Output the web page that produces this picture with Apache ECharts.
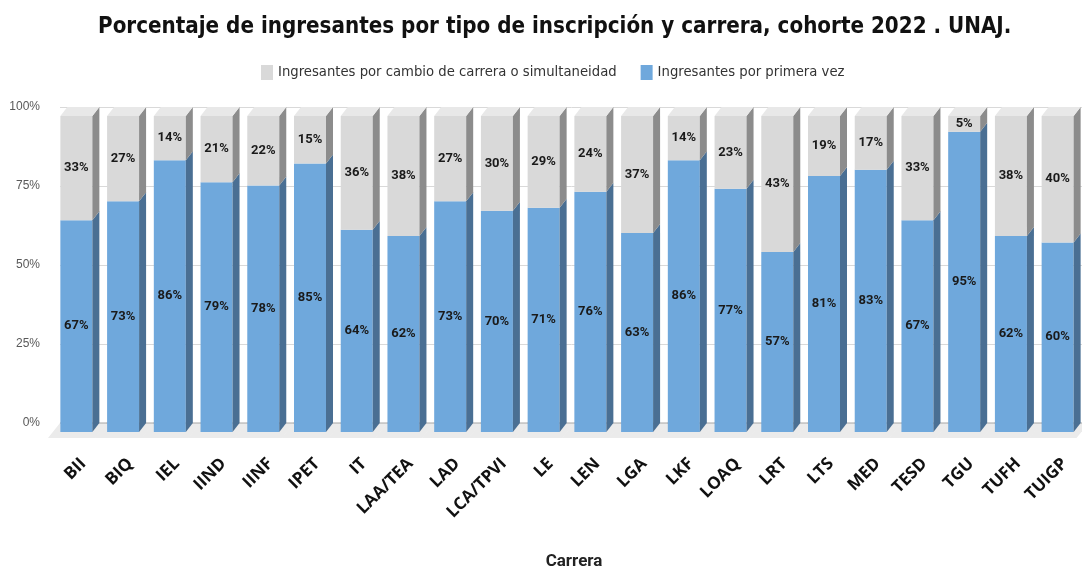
<!DOCTYPE html>
<html>
<head>
<meta charset="utf-8">
<script src="https://cdn.jsdelivr.net/npm/echarts@6/dist/echarts.min.js"></script>
<style>
  html, body { margin: 0; padding: 0; background: #fff; }
  #chart { width: 1082px; height: 573px; }
</style>
</head>
<body>
<div id="chart"></div>
<script>
const categorias = ['BII', 'BIQ', 'IEL', 'IIND', 'IINF', 'IPET', 'IT', 'LAA/TEA', 'LAD', 'LCA/TPVI', 'LE',
  'LEN', 'LGA', 'LKF', 'LOAQ', 'LRT', 'LTS', 'MED', 'TESD', 'TGU', 'TUFH', 'TUIGP']
const primeraVez = [67, 73, 86, 79, 78, 85, 64, 62, 73, 70, 71, 76, 63, 86, 77, 57, 81, 83, 67, 95, 62, 60]
const cambio = [33, 27, 14, 21, 22, 15, 36, 38, 27, 30, 29, 24, 37, 14, 23, 43, 19, 17, 33, 5, 38, 40]
const yTicks = [0, 25, 50, 75, 100]

const NOMBRE_CAMBIO = 'Ingresantes por cambio de carrera o simultaneidad'
const NOMBRE_PRIMERA = 'Ingresantes por primera vez'

// offsets de la falsa perspectiva 3D
const DX = 7
const DY = 9
const FRONT_W = 32

const chart = echarts.init(document.getElementById('chart'))

const makeRender = (colors, withTop, withFloor) => (params, api) => {
  const i = api.value(0)
  const lo = api.value(1)
  const hi = api.value(2)
  const base = api.coord([i, lo])
  const top = api.coord([i, hi])
  const band = api.size([1, 0])[0]
  const cx = base[0]
  const fl = cx - DX - FRONT_W / 2
  const fr = fl + FRONT_W
  const yb = base[1] + DY
  const yt = top[1] + DY
  const children = []
  if (withFloor) {
    const y0 = api.coord([i, 0])[1]
    children.push({
      type: 'polygon', z2: 0,
      shape: { points: [[cx - band / 2, y0], [cx + band / 2 + 0.5, y0], [cx + band / 2 - 12 + 0.5, y0 + 15], [cx - band / 2 - 12, y0 + 15]] },
      style: { fill: '#ebebeb' }
    })
    children.push({
      type: 'line', z2: 1,
      shape: { x1: cx - band / 2, y1: y0, x2: cx + band / 2 + 0.5, y2: y0 },
      style: { stroke: '#a6a6a6', lineWidth: 1 }
    })
  }
  children.push({
    type: 'rect', z2: 10,
    shape: { x: fl, y: yt, width: FRONT_W, height: yb - yt },
    style: { fill: colors[0] }
  })
  children.push({
    type: 'polygon', z2: 10,
    shape: { points: [[fr, yt], [fr + DX, top[1]], [fr + DX, base[1]], [fr, yb]] },
    style: { fill: colors[1] }
  })
  if (withTop) {
    children.push({
      type: 'polygon', z2: 10,
      shape: { points: [[fl, yt], [fl + DX, top[1]], [fr + DX, top[1]], [fr, yt]] },
      style: { fill: colors[2] }
    })
  }
  children.push({
    type: 'text', z2: 20,
    x: fl + FRONT_W / 2, y: (yt + yb) / 2,
    style: {
      text: (hi - lo) + '%', align: 'center', verticalAlign: 'middle',
      fill: '#1a1a1a', font: 'bold 13px Roboto'
    }
  })
  return { type: 'group', children }
}

const option = {
  animation: false,
  title: {
    text: 'Porcentaje de ingresantes por tipo de inscripción y carrera, cohorte 2022 . UNAJ.',
    left: 93,
    top: 11,
    textStyle: { fontFamily: '"DejaVu Sans Condensed", sans-serif', fontWeight: 'bold', fontSize: 22.2, color: '#111' }
  },
  legend: {
    top: 60,
    left: 256,
    data: [NOMBRE_CAMBIO, NOMBRE_PRIMERA],
    icon: 'rect',
    itemWidth: 12,
    itemHeight: 15,
    itemGap: 24,
    textStyle: { fontFamily: '"DejaVu Sans Condensed", sans-serif', fontSize: 14.7, color: '#333' }
  },
  grid: { left: 60, width: 1028, top: 107, bottom: 150, outerBoundsMode: 'none', containLabel: false },
  xAxis: {
    type: 'category',
    data: categorias,
    name: 'Carrera',
    nameLocation: 'middle',
    nameGap: 130,
    nameTextStyle: { fontFamily: 'Roboto', fontWeight: 'bold', fontSize: 17, color: '#222' },
    axisLine: { show: false },
    axisTick: { show: false },
    axisLabel: {
      interval: 0, rotate: 45, margin: 38,
      fontFamily: 'Open Sans', fontWeight: 'bold', fontSize: 17, color: '#111'
    }
  },
  yAxis: {
    type: 'value',
    min: yTicks[0],
    max: yTicks[yTicks.length - 1],
    interval: 25,
    axisLine: { show: false },
    axisTick: { show: false },
    axisLabel: { formatter: '{value}%', margin: 20, fontFamily: 'Liberation Sans', fontSize: 12, color: '#595959' },
    splitLine: { lineStyle: { color: '#d9d9d9' } }
  },
  series: [
    {
      name: NOMBRE_PRIMERA,
      type: 'custom',
      itemStyle: { color: '#6fa8dc' },
      encode: { x: 0, y: [1, 2] },
      renderItem: makeRender(['#6fa8dc', '#4a6f93'], false, true),
      data: categorias.map((c, i) => [i, 0, primeraVez[i]]),
      z: 2
    },
    {
      name: NOMBRE_CAMBIO,
      type: 'custom',
      itemStyle: { color: '#d9d9d9' },
      encode: { x: 0, y: [1, 2] },
      renderItem: makeRender(['#d9d9d9', '#8c8c8c', '#e8e8e8'], true, false),
      data: categorias.map((c, i) => [i, primeraVez[i], primeraVez[i] + cambio[i]]),
      z: 3
    }
  ]
}

chart.setOption(option)
window.addEventListener('resize', () => chart.resize())
</script>
</body>
</html>
